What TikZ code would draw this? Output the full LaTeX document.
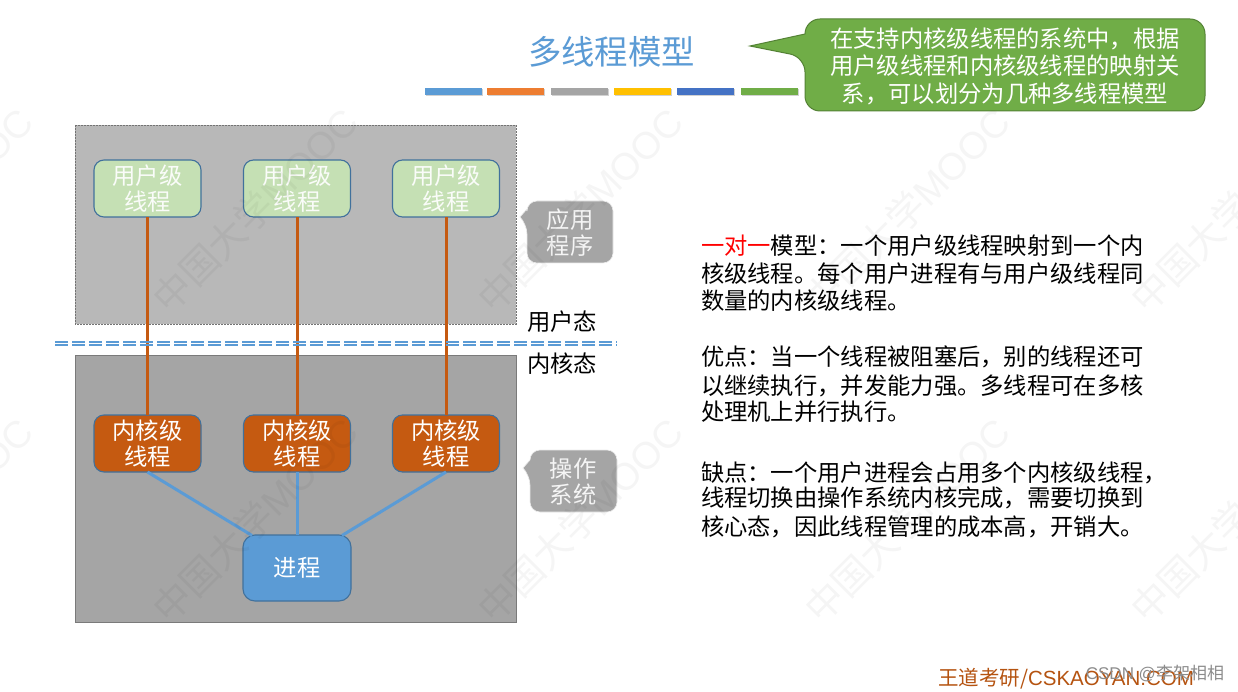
\documentclass[tikz,border=0pt]{standalone}
\usepackage{fontspec}
\setmainfont{Noto Sans CJK SC}
\newfontfamily\latinfont{Liberation Sans}
\usetikzlibrary{calc}
\definecolor{cblue}{HTML}{5B9BD5}
\definecolor{corange}{HTML}{C55A11}
\definecolor{cgreen}{HTML}{70AD47}
\definecolor{cgray}{HTML}{A5A5A5}
\definecolor{ledge}{HTML}{41719C}
\definecolor{uFill}{HTML}{C5E0B4}
\newcommand{\pxl}[2]{\fontsize{#1pt}{#2pt}\selectfont}
\tikzset{
  every node/.style={inner sep=0pt,outer sep=0pt},
  userbox/.style={draw=ledge,line width=1.1pt,fill=uFill,rounded corners=10pt,minimum width=107pt,minimum height=57pt,text=white,align=center,font=\pxl{23.3}{26}},
  kernbox/.style={userbox,fill=corange},
  procbox/.style={userbox,fill=cblue,rounded corners=12pt,minimum height=66pt,minimum width=108pt},
  orangeline/.style={draw=corange,line width=3pt},
  blueline/.style={draw=cblue,line width=3pt},
  barshape/.style={minimum width=57pt,minimum height=7pt,anchor=north west},
  plain/.style={font=\pxl{23.3}{27},text=black,anchor=west},
  bubble/.style={font=\pxl{23.3}{27.5},text=white,align=center},
  graybubble/.style={font=\pxl{23.3}{26},text=white!92!gray,align=center},
  wm/.style={font=\pxl{38}{38},text=black,opacity=0.04,rotate=45,anchor=center},
  dashline/.style={draw=cblue,line width=1.5pt,dash pattern=on 13pt off 4pt},
}
\begin{document}
\begin{tikzpicture}[x=1pt,y=-1pt]
\useasboundingbox (0,0) rectangle (1238,692);
\fill[white] (0,0) rectangle (1238,692);
% title
\node[font=\pxl{33.4}{36},text=cblue] (title) at (611.5,52) {多线程模型};
% colour bars
\foreach \x/\c [count=\i] in {425/5B9BD5,487/ED7D31,551/A5A5A5,614/FFC000,677/4472C4,741/70AD47}{
  \fill[black,opacity=.18] (\x+1,89.5) rectangle ++(57,7);
  \definecolor{tmpc}{HTML}{\c}
  \node[barshape,fill=tmpc] (bar\i) at (\x,88) {};
}
% green callout
\path[draw=cgreen!75!black,line width=1pt,fill=cgreen,rounded corners=15pt]
  (805,34) -- (805,19) -- (1205,19) -- (1205,111) -- (805,111) -- (805,57) [sharp corners] -- (750,46) -- cycle;
\node[bubble] (note) at (1005,66) {在支持内核级线程的系统中，根据\\用户级线程和内核级线程的映射关\\系，可以划分为几种多线程模型};
% big boxes
\fill[fill=black!28] (75,125) rectangle (516,324);
\draw[black!55,line width=.8pt,dash pattern=on 2pt off 1pt] (75,125) rectangle (516,324);
\draw[fill=cgray,draw=black!52,line width=1pt] (75,355) rectangle (516,622);
% gray callouts
\path[fill=cgray,draw=white!85!gray,line width=.6pt,rounded corners=10pt]
  (527,209) -- (527,201) -- (613,201) -- (613,263) -- (527,263) -- (527,224) [sharp corners] -- (520,217) -- cycle;
\node[graybubble] (app) at (570,232.5) {应用\\程序};
\path[fill=cgray,draw=white!85!gray,line width=.6pt,rounded corners=10pt]
  (530,460) -- (530,450) -- (617,450) -- (617,512) -- (530,512) -- (530,475) [sharp corners] -- (523,468) -- cycle;
\node[graybubble] (os) at (573,481.5) {操作\\系统};
% state labels
\node[plain] (ustate) at (527,322) {用户态};
\node[plain] (kstate) at (527,364) {内核态};
% thread boxes
\foreach \n/\x in {1/147.5,2/297,3/446}{
  \node[userbox,text=white!92!uFill] (u\n) at (\x,188.5) {用户级\\线程};
  \node[kernbox] (k\n) at (\x,443.5) {内核级\\线程};
  \draw[orangeline] (u\n.south) -- (k\n.north);
}
\node[procbox] (p) at (297,568) {进程};
\coordinate (pl) at (252,535.5);
\coordinate (pr) at (342,535.5);
\draw[blueline] (k1.south) -- (pl);
\draw[blueline] (k2.south) -- (p.north);
\draw[blueline] (k3.south) -- (pr);
% divider
\coordinate (dl) at (55,343.6);
\coordinate (dr) at (617,343.6);
\draw[dashline] ($(dl)+(0,-1.6)$) -- ($(dr)+(0,-1.6)$);
\draw[dashline] ($(dl)+(0,1.6)$) -- ($(dr)+(0,1.6)$);
% body text
\node[plain] (t1) at (701,245.5) {\textcolor{red}{一对一}模型：一个用户级线程映射到一个内};
\node[plain] (t2) at (701,273.5) {核级线程。每个用户进程有与用户级线程同};
\node[plain] (t3) at (701,300.5) {数量的内核级线程。};
\node[plain] (t4) at (701,356.5) {优点：当一个线程被阻塞后，别的线程还可};
\node[plain] (t5) at (701,385.5) {以继续执行，并发能力强。多线程可在多核};
\node[plain] (t6) at (701,411.5) {处理机上并行执行。};
\node[plain] (t7) at (701,472.5) {缺点：一个用户进程会占用多个内核级线程，};
\node[plain] (t8) at (701,497.5) {线程切换由操作系统内核完成，需要切换到};
\node[plain] (t9) at (701,526.5) {核心态，因此线程管理的成本高，开销大。};
% footer
\node[font=\pxl{20.5}{22},text=corange!92!black,anchor=west] (foot) at (938,679) {王道考研/{\latinfont CSKAOYAN.COM}};
\node[font=\pxl{17}{19},text=black!45,anchor=east] (csdn) at (1224,674) {{\latinfont CSDN @}李架相相};
% watermark
\begin{scope}
\clip (0,0) rectangle (1238,692);
\foreach \cx/\cy [count=\j] in {-70/210,255/210,580/210,907/210,1233/210,-70/520,255/520,580/520,907/520,1233/520}{
  \node[wm] (w\j) at (\cx,\cy) {中国大学{\latinfont MOOC}};
}
\end{scope}
\end{tikzpicture}
\end{document}
